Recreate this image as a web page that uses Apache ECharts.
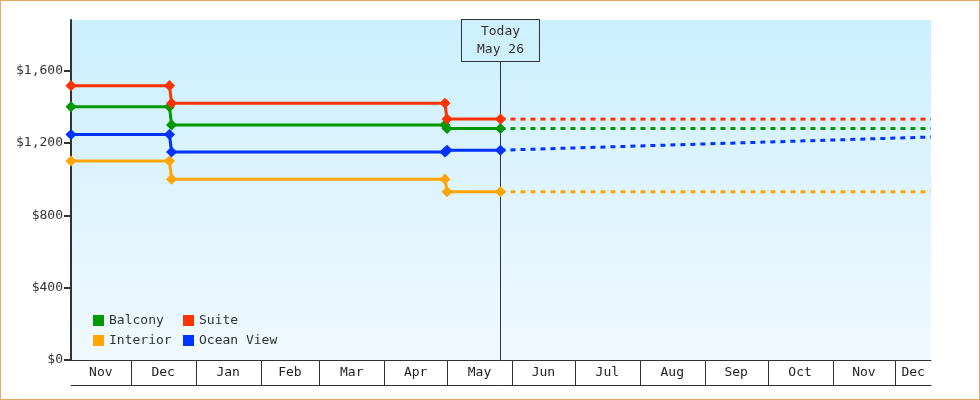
<!DOCTYPE html>
<html lang="en">
<head>
	<meta charset="UTF-8">
	<title>Cabin price history</title>
	<script src="https://cdn.jsdelivr.net/npm/echarts@6/dist/echarts.min.js"></script>
	<style>
		body { margin: 0; }
		.wrap { position: relative; width: 980px; height: 400px; }
		#chart { width: 980px; height: 400px; }
		.frame { position: absolute; left: 0; top: 0; right: 0; bottom: 0; border: 1px solid #e8a862; box-sizing: border-box; pointer-events: none; }
	</style>
</head>
<body>
	<div class="wrap">
		<div id="chart"></div>
		<div class="frame"></div>
	</div>

	<script type="text/javascript">
		// axis range and "today"
		var rangeStart = '2018-11-02 12:00';
		var rangeEnd = '2019-12-18 00:00';
		var today = '2019-05-26 12:00';
		var todayText = 'Today\nMay 26';

		// price history (steps)
		var historyDates = ['2018-11-02 12:00', '2018-12-19 12:00', '2018-12-20 12:00', '2019-04-30 00:00', '2019-05-01 00:00', '2019-05-26 12:00'];
		var balcony = [1400, 1400, 1300, 1300, 1280, 1280];
		var suite = [1517, 1517, 1420, 1420, 1332, 1332];
		var interior = [1100, 1100, 1000, 1000, 930, 930];
		var oceanView = [1247, 1247, 1150, 1150, 1160, 1160];

		// projection from today to the end of the axis
		var forecastDates = ['2019-05-26 12:00', '2019-12-18 00:00'];
		var balconyFc = [1280, 1280];
		var suiteFc = [1332, 1332];
		var interiorFc = [930, 930];
		var oceanViewFc = [1160, 1233];

		var seriesNames = ['Balcony', 'Suite', 'Interior', 'Ocean View'];
		var seriesColors = ['#009a00', '#ff3300', '#ffa500', '#0033ff'];
		var yTicks = [0, 400, 800, 1200, 1600];
		var yMax = 1880;
		var monthNames = ['Jan', 'Feb', 'Mar', 'Apr', 'May', 'Jun', 'Jul', 'Aug', 'Sep', 'Oct', 'Nov', 'Dec'];

		var FONT = 'DejaVu Sans Mono';

		function t(s) {
			var p = s.split(/[- :]/);
			return new Date(+p[0], +p[1] - 1, +p[2], +(p[3] || 0), +(p[4] || 0)).getTime();
		}
		function pairs(dates, vals) {
			var out = [];
			for (var i = 0; i < dates.length; i++) {
				out.push([t(dates[i]), vals[i]]);
			}
			return out;
		}

		var xMin = t(rangeStart), xMax = t(rangeEnd);

		// one cell per visible month: [start, end, month index, is a real month start]
		var monthCells = [];
		var d0 = new Date(xMin);
		var cur = new Date(d0.getFullYear(), d0.getMonth(), 1);
		while (cur.getTime() < xMax) {
			var next = new Date(cur.getFullYear(), cur.getMonth() + 1, 1);
			monthCells.push([Math.max(cur.getTime(), xMin), Math.min(next.getTime(), xMax), cur.getMonth(), cur.getTime() > xMin ? 1 : 0]);
			cur = next;
		}

		var pastValues = [balcony, suite, interior, oceanView];
		var futureValues = [balconyFc, suiteFc, interiorFc, oceanViewFc];

		var series = [];
		for (var i = 0; i < seriesNames.length; i++) {
			var s = {
				name: seriesNames[i],
				type: 'line',
				data: pairs(historyDates, pastValues[i]),
				symbol: 'diamond',
				symbolSize: 9,
				showAllSymbol: true,
				color: seriesColors[i],
				itemStyle: { borderColor: seriesColors[i], borderWidth: 1.5 },
				lineStyle: { width: 3 },
				z: 3
			};
			if (i == 0) {
				// "today" marker, kept under the price lines
				s.markLine = {
					silent: true,
					z: 1,
					symbol: ['none', 'none'],
					lineStyle: { color: '#333', width: 1, type: 'solid' },
					label: {
						position: 'end',
						distance: -41,
						formatter: todayText,
						fontFamily: FONT,
						fontSize: 13,
						color: '#333',
						lineHeight: 18,
						padding: [3, 15, 2, 15],
						borderColor: '#333',
						borderWidth: 1,
						backgroundColor: '#cff0fd'
					},
					data: [{ xAxis: t(today) }]
				};
			}
			series.push(s);
			series.push({
				name: seriesNames[i],
				type: 'line',
				data: pairs(forecastDates, futureValues[i]),
				symbol: 'none',
				color: seriesColors[i],
				lineStyle: { width: 3, type: [5, 5] },
				z: 2
			});
		}

		// month row under the plot
		series.push({
			type: 'custom',
			silent: true,
			clip: false,
			data: monthCells,
			encode: { x: [0, 1] },
			renderItem: function (params, api) {
				var p0 = api.coord([api.value(0), 0]);
				var p1 = api.coord([api.value(1), 0]);
				var children = [];
				if (api.value(3)) {
					var x = Math.round(p0[0]) + 0.5;
					children.push({
						type: 'line',
						shape: { x1: x, y1: p0[1], x2: x, y2: p0[1] + 25 },
						style: { stroke: '#333', lineWidth: 1 }
					});
				}
				children.push({
					type: 'text',
					style: {
						text: monthNames[api.value(2)],
						x: (p0[0] + p1[0]) / 2,
						y: p0[1] + 13,
						align: 'center',
						verticalAlign: 'middle',
						fontFamily: FONT,
						fontSize: 13,
						fill: '#222'
					}
				});
				return { type: 'group', children: children };
			}
		});

		var legendBase = {
			orient: 'vertical',
			top: 314,
			padding: 0,
			itemGap: 7,
			itemWidth: 11,
			itemHeight: 11,
			icon: 'rect',
			selectedMode: false,
			itemStyle: { borderWidth: 0 },
			textStyle: { fontFamily: FONT, fontSize: 13, color: '#333' }
		};

		var myChart = echarts.init(document.getElementById('chart'));
		myChart.setOption({
			animation: false,
			backgroundColor: '#fff',
			textStyle: { fontFamily: FONT },
			grid: {
				left: 71,
				top: 20,
				width: 860,
				height: 340,
				show: true,
				borderWidth: 0,
				backgroundColor: {
					type: 'linear', x: 0, y: 0, x2: 0, y2: 1,
					colorStops: [{ offset: 0, color: '#ccefff' }, { offset: 1, color: '#f0f9ff' }]
				}
			},
			legend: [
				Object.assign({}, legendBase, { left: 93, data: [seriesNames[0], seriesNames[2]] }),
				Object.assign({}, legendBase, { left: 183, data: [seriesNames[1], seriesNames[3]] })
			],
			xAxis: [{
				type: 'time',
				min: xMin,
				max: xMax,
				axisLine: { lineStyle: { color: '#333', width: 1 } },
				axisTick: { show: false },
				axisLabel: { show: false },
				splitLine: { show: false }
			}, {
				type: 'time',
				min: xMin,
				max: xMax,
				position: 'bottom',
				offset: 25,
				axisLine: { show: true, lineStyle: { color: '#333', width: 1 } },
				axisTick: { show: false },
				axisLabel: { show: false },
				splitLine: { show: false }
			}],
			yAxis: {
				type: 'value',
				min: 0,
				max: yMax,
				axisLine: { show: true, lineStyle: { color: '#333', width: 2 } },
				axisTick: { show: true, customValues: yTicks, length: 7, lineStyle: { color: '#333', width: 2 } },
				axisLabel: {
					customValues: yTicks,
					formatter: function (v) { return '$' + v.toLocaleString('en-US'); },
					margin: 8,
					fontFamily: FONT,
					fontSize: 13,
					color: '#333'
				},
				splitLine: { show: false }
			},
			series: series
		});
	</script>
</body>
</html>
